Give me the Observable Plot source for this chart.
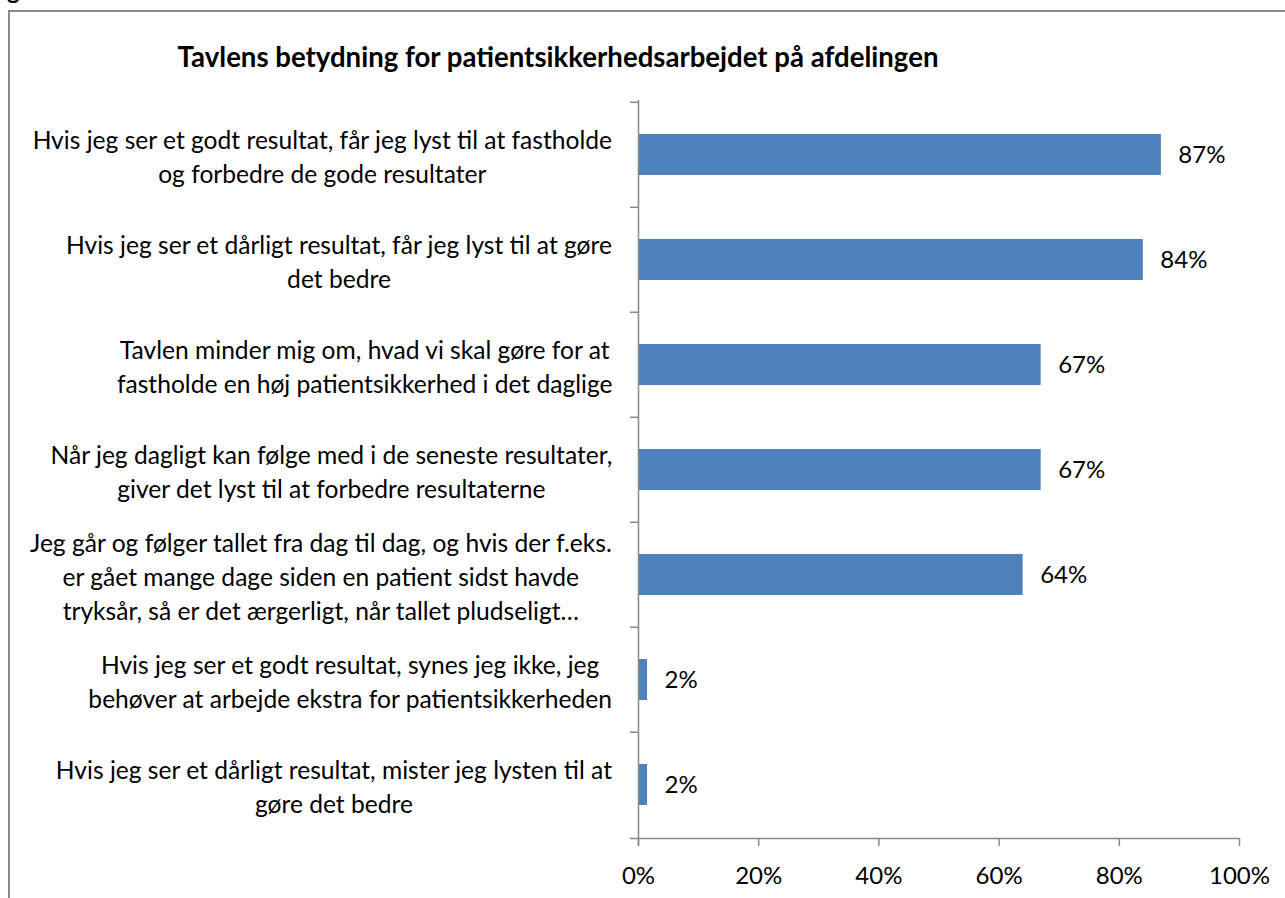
<!DOCTYPE html>
<html><head><meta charset="utf-8">
<script src="https://cdn.jsdelivr.net/npm/d3@7"></script>
<script src="https://cdn.jsdelivr.net/npm/@observablehq/plot@0.6"></script>
<style>
html,body{margin:0;padding:0;background:#fff;overflow:hidden;width:1285px;height:898px;}
#frame{position:absolute;left:8px;top:10px;width:1400px;height:1000px;border-left:2px solid #8a8a8a;border-top:2px solid #8a8a8a;}
#frag{position:absolute;left:7px;top:-22px;font:bold 24px/24px Lato;color:#000;}
#title{position:absolute;left:0;width:1116px;top:42px;text-align:center;font:bold 27.6px/30px Lato;color:#000;}
#chart{position:absolute;left:0;top:70px;}
</style></head><body>
<div id="frame"></div>
<div id="frag">g</div>
<div id="title">Tavlens betydning for patientsikkerhedsarbejdet på afdelingen</div>
<div id="chart"></div>
<script>
const categories = [
  "Hvis jeg ser et godt resultat, får jeg lyst til at fastholde\nog forbedre de gode resultater",
  "Hvis jeg ser et dårligt resultat, får jeg lyst til at gøre\ndet bedre",
  "Tavlen minder mig om, hvad vi skal gøre for at\nfastholde en høj patientsikkerhed i det daglige",
  "Når jeg dagligt kan følge med i de seneste resultater,\ngiver det lyst til at forbedre resultaterne",
  "Jeg går og følger tallet fra dag til dag, og hvis der f.eks.\ner gået mange dage siden en patient sidst havde\ntryksår, så er det ærgerligt, når tallet pludseligt…",
  "Hvis jeg ser et godt resultat, synes jeg ikke, jeg\nbehøver at arbejde ekstra for patientsikkerheden",
  "Hvis jeg ser et dårligt resultat, mister jeg lysten til at\ngøre det bedre"
];
const values = [87, 84, 67, 67, 64, 1.5, 1.5];
const xTicks = [0, 20, 40, 60, 80, 100];

const data = categories.map((c, i) => ({category: c, value: values[i]}));

const W = 1285, H = 828;
const mT = 30, mB = 60, mL = 638, mR = 46;
const step = (H - mT - mB) / categories.length;
const gray = "#898989";
const fontSize = 24;
const labelSize = 24.6;

const ctx = document.createElement("canvas").getContext("2d");
ctx.font = `${labelSize}px Lato`;
const blockWidth = c => Math.max(...c.split("\n").map(l => ctx.measureText(l).width));

const labelMarks = categories.map(c => Plot.text([c], {
  y: d => d, text: d => d, frameAnchor: "left", textAnchor: "middle",
  dx: -(26 + blockWidth(c) / 2), lineHeight: 1.38, fontSize: labelSize, fill: "#000"
}));

const chart = Plot.plot({
  width: W, height: H,
  marginTop: mT, marginBottom: mB, marginLeft: mL, marginRight: mR,
  style: {fontFamily: "Lato", fontSize: fontSize + "px", background: "transparent", color: "#000"},
  x: {domain: [0, 100], axis: null},
  y: {domain: categories, axis: null, paddingInner: 0.61, paddingOuter: 0.305},
  marks: [
    Plot.barX(data, {x: "value", y: "category", fill: "#4f81bd"}),
    Plot.text(data, {x: "value", y: "category", text: d => Math.round(d.value) + "%", textAnchor: "start", dx: 17, fontSize, fill: "#000"}),
    ...labelMarks,
    Plot.axisY({tickSize: 8, tickFormat: () => "", label: null, stroke: gray, strokeWidth: 1.5, dy: -step / 2}),
    Plot.ruleX([0], {stroke: gray, strokeWidth: 1.5, insetBottom: -8}),
    Plot.frame({anchor: "bottom", stroke: gray, strokeWidth: 1.5, insetLeft: -8}),
    Plot.axisX({ticks: xTicks, tickFormat: d => d + "%", tickSize: 8, tickPadding: 20, stroke: gray, strokeWidth: 1.5, fill: "#000", fontSize, label: null})
  ]
});
document.getElementById("chart").appendChild(chart);
</script>
</body></html>
